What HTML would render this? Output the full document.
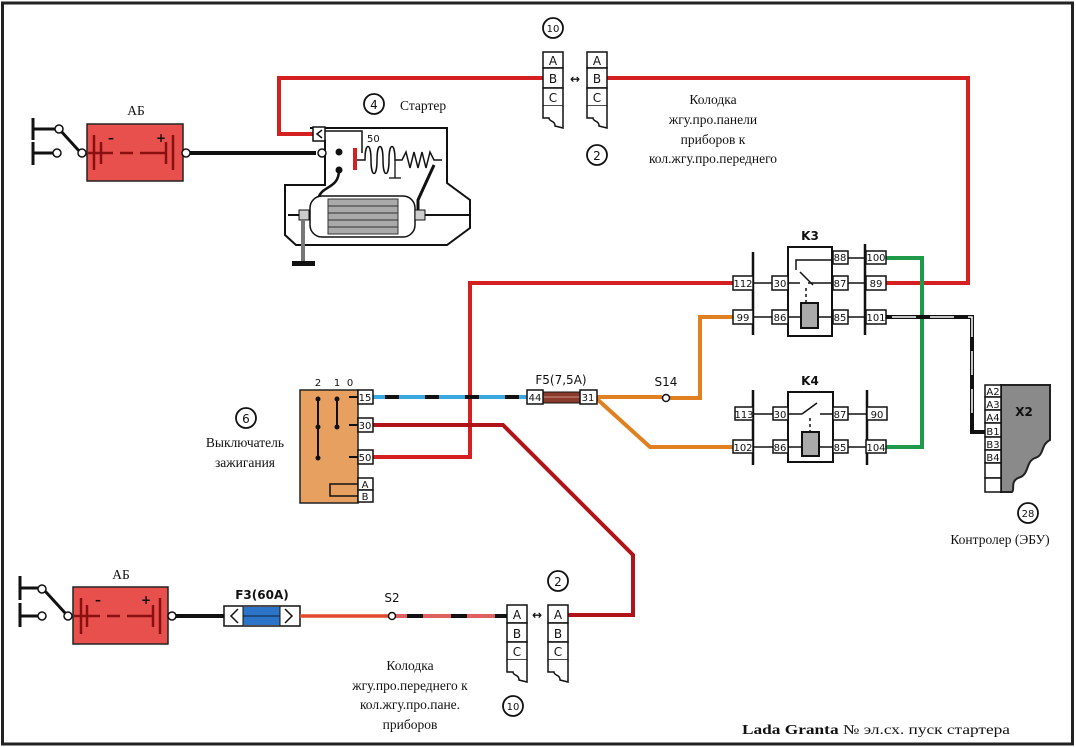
<!DOCTYPE html>
<html><head><meta charset="utf-8"><style>
html,body{margin:0;padding:0;background:#fff}
svg{display:block}
.s{font-family:"Liberation Serif","DejaVu Serif",serif;font-size:13.5px;fill:#111}
.p{font-family:"DejaVu Sans","Liberation Sans",sans-serif;font-size:10px;fill:#111}
.b{font-family:"DejaVu Sans","Liberation Sans",sans-serif;font-size:12px;fill:#111}
</style></head><body>
<svg width="1076" height="747" viewBox="0 0 1076 747" xmlns="http://www.w3.org/2000/svg">
<rect x="2.5" y="3" width="1070" height="741" fill="#fff" stroke="#222" stroke-width="3"/>

<!-- top battery -->
<g stroke="#111" stroke-width="3" fill="none">
<line x1="33" y1="118" x2="33" y2="140"/><line x1="33" y1="142" x2="33" y2="165"/>
<line x1="33" y1="129" x2="58" y2="129"/><line x1="33" y1="153" x2="53" y2="153"/>
<line x1="60" y1="130" x2="80" y2="152"/>
<line x1="183" y1="153" x2="316" y2="153" stroke-width="4"/>
</g>
<circle cx="59" cy="129" r="4" fill="#fff" stroke="#111" stroke-width="1.5"/>
<circle cx="57" cy="153" r="4" fill="#fff" stroke="#111" stroke-width="1.5"/>
<circle cx="82" cy="153" r="4" fill="#fff" stroke="#111" stroke-width="1.5"/>
<rect x="87" y="124" width="96" height="57" fill="#e8504d" stroke="#222" stroke-width="1.5"/>
<g stroke="#8a1010" stroke-width="2.5"><line x1="94" y1="135" x2="94" y2="170"/><line x1="101" y1="142" x2="101" y2="164"/><line x1="88" y1="153" x2="113" y2="153"/><line x1="120" y1="153" x2="133" y2="153"/><line x1="140" y1="153" x2="166" y2="153"/><line x1="166" y1="142" x2="166" y2="164"/><line x1="173" y1="135" x2="173" y2="170"/></g>
<text x="108" y="142" class="b" fill="#8a1010" font-weight="bold">–</text><text x="156" y="142" class="b" font-weight="bold" fill="#8a1010">+</text>
<circle cx="186" cy="153" r="4" fill="#fff" stroke="#111" stroke-width="1.5"/>
<text x="136" y="115" class="s" font-size="17" text-anchor="middle">АБ</text>

<!-- red top loop -->
<polyline points="313,134 279,134 279,78 543,78" fill="none" stroke="#d42020" stroke-width="4"/>
<polyline points="607,78 968,78 968,283 886,283" fill="none" stroke="#d42020" stroke-width="4"/>

<!-- starter -->
<path d="M310,128 H447 V183 L470,200 V228 L447,245 H296 L285,235 V185 H325 V140" fill="none" stroke="#111" stroke-width="2"/>
<line x1="288" y1="215" x2="470" y2="215" stroke="#111" stroke-width="2"/>
<rect x="313" y="127" width="12" height="14" fill="#fff" stroke="#111" stroke-width="1.5"/>
<polyline points="322,130 317,134 322,138" fill="none" stroke="#111" stroke-width="1.5"/>
<polyline points="325,131 362,131 362,153" fill="none" stroke="#111" stroke-width="1.5"/>
<circle cx="322" cy="153" r="4" fill="#fff" stroke="#111" stroke-width="1.5"/>
<circle cx="339" cy="152" r="3.5" fill="#111"/><circle cx="339" cy="170" r="3.5" fill="#111"/>
<path d="M339,170 C339,190 320,185 318,200" fill="none" stroke="#111" stroke-width="2.5"/>
<rect x="353" y="148" width="4" height="22" fill="#d42020"/>
<path d="M357,160 H365 c0,-18 6,-18 6,0 c0,18 6,18 6,0 c0,-18 6,-18 6,0 c0,18 6,18 6,0 c0,-18 6,-18 6,0 L402,160 l4,-8 l4,16 l4,-16 l4,16 l4,-16 l4,16 l4,-16 l4,8 H442" fill="none" stroke="#111" stroke-width="1.5"/>
<line x1="395" y1="160" x2="395" y2="178" stroke="#111" stroke-width="1.3"/><line x1="389" y1="178" x2="401" y2="178" stroke="#111" stroke-width="1.3"/>
<path d="M434,165 L418,200 V215" fill="none" stroke="#111" stroke-width="3"/>
<text x="367" y="142" class="p" font-size="11">50</text>
<rect x="310" y="196" width="105" height="41" rx="12" fill="#fff" stroke="#111" stroke-width="1.5"/>
<rect x="328" y="199" width="70" height="35" fill="#aaa" stroke="#333"/>
<g stroke="#333"><line x1="328" y1="206" x2="398" y2="206"/><line x1="328" y1="213" x2="398" y2="213"/><line x1="328" y1="220" x2="398" y2="220"/><line x1="328" y1="227" x2="398" y2="227"/></g>
<rect x="299" y="210" width="10" height="10" fill="#ccc" stroke="#111"/><rect x="415" y="210" width="10" height="10" fill="#ccc" stroke="#111"/>
<line x1="303" y1="220" x2="303" y2="262" stroke="#777" stroke-width="4"/>
<rect x="292" y="261" width="23" height="5" fill="#111"/>
<circle cx="374" cy="104" r="10" fill="#fff" stroke="#111" stroke-width="1.8"/><text x="374" y="109" class="b" text-anchor="middle">4</text>
<text x="400" y="110" class="s" font-size="14.5">Стартер</text>

<!-- top connectors 10 -->
<g fill="#fff" stroke="#111" stroke-width="1.5">
<rect x="543" y="52" width="20" height="16"/><rect x="543" y="68" width="20" height="20"/><rect x="543" y="88" width="20" height="18"/>
<path d="M543,106 V118 h6 c0,4 6,2 6,8 l8,2 V106" fill="#fff"/>
<rect x="587" y="52" width="20" height="16"/><rect x="587" y="68" width="20" height="20"/><rect x="587" y="88" width="20" height="18"/>
<path d="M587,106 V118 h6 c0,4 6,2 6,8 l8,2 V106"/>
</g>
<g><text x="553" y="65" class="b" font-size="13" text-anchor="middle">A</text><text x="553" y="83" class="b" font-size="13" text-anchor="middle">B</text><text x="553" y="102" class="b" font-size="13" text-anchor="middle">C</text><text x="597" y="65" class="b" font-size="13" text-anchor="middle">A</text><text x="597" y="83" class="b" font-size="13" text-anchor="middle">B</text><text x="597" y="102" class="b" font-size="13" text-anchor="middle">C</text></g>
<text x="575" y="83" class="b" font-size="14" font-weight="bold" text-anchor="middle">↔</text>
<circle cx="553" cy="28" r="10" fill="#fff" stroke="#111" stroke-width="1.8"/><text x="553" y="32" class="p" text-anchor="middle">10</text>
<circle cx="597" cy="155" r="10" fill="#fff" stroke="#111" stroke-width="1.8"/><text x="597" y="160" class="b" text-anchor="middle">2</text>
<g><text x="713" y="104" class="s" text-anchor="middle">Колодка</text><text x="713" y="124" class="s" text-anchor="middle">жгу.про.панели</text><text x="713" y="144" class="s" text-anchor="middle">приборов к</text><text x="713" y="163" class="s" text-anchor="middle">кол.жгу.про.переднего</text></g>

<!-- wires middle -->
<polyline points="373,457 470,457 470,283 733,283" fill="none" stroke="#d42020" stroke-width="4"/>
<polyline points="373,425 503,425 633,555 633,615 568,615" fill="none" stroke="#b01418" stroke-width="4"/>
<line x1="373" y1="397" x2="527" y2="397" stroke="#3aa8e0" stroke-width="4"/>
<line x1="373" y1="397" x2="527" y2="397" stroke="#111" stroke-width="4" stroke-dasharray="0 12 14 14"/>
<polyline points="733,317 700,317 700,398 670,398" fill="none" stroke="#e08020" stroke-width="4"/>
<polyline points="597,397 662,397" fill="none" stroke="#e08020" stroke-width="4"/>
<polyline points="597,399 650,447 733,447" fill="none" stroke="#e08020" stroke-width="4"/>
<circle cx="666" cy="398" r="3.5" fill="#fff" stroke="#111" stroke-width="1.5"/>
<text x="666" y="386" class="b" text-anchor="middle">S14</text>
<polyline points="886,258 922,258 922,447 886,447" fill="none" stroke="#1f9a4a" stroke-width="4"/>
<polyline points="886,317 972,317 972,432 985,432" fill="none" stroke="#111" stroke-width="4"/>
<polyline points="892,317 972,317 972,425" fill="none" stroke="#fff" stroke-width="1.5" stroke-dasharray="24 14"/>

<!-- K3 -->
<g stroke="#111" fill="none" stroke-width="1.5">
<line x1="753" y1="252" x2="753" y2="335" stroke-width="2.5"/><line x1="865" y1="244" x2="865" y2="335" stroke-width="2.5"/>
<line x1="753" y1="283" x2="772" y2="283"/><line x1="753" y1="317" x2="772" y2="317"/>
<line x1="848" y1="258" x2="866" y2="258"/><line x1="848" y1="283" x2="866" y2="283"/><line x1="848" y1="317" x2="866" y2="317"/>
<rect x="788" y="247" width="44" height="89" stroke-width="2"/>
<polyline points="787,283 800,283"/><polyline points="808,283 833,283"/><line x1="800" y1="272" x2="813" y2="285"/>
<polyline points="796,270 796,260 832,260"/>
<line x1="806" y1="288" x2="806" y2="302" stroke-dasharray="3 3"/>
<line x1="787" y1="317" x2="801" y2="317"/><line x1="818" y1="317" x2="833" y2="317"/>
<rect x="801" y="303" width="17" height="25" fill="#aaa" stroke-width="2"/>
</g>
<g stroke="#111" fill="#fff" stroke-width="1.5">
<rect x="733" y="276" width="20" height="14"/><rect x="733" y="310" width="20" height="14"/>
<rect x="772" y="276" width="16" height="14"/><rect x="772" y="310" width="16" height="14"/>
<rect x="833" y="251" width="15" height="13"/><rect x="833" y="276" width="15" height="14"/><rect x="833" y="310" width="15" height="14"/>
<rect x="866" y="251" width="20" height="13"/><rect x="866" y="276" width="20" height="14"/><rect x="866" y="310" width="20" height="14"/>
</g>
<g class="p" text-anchor="middle">
<text x="743" y="287">112</text><text x="743" y="321">99</text><text x="780" y="287">30</text><text x="780" y="321">86</text>
<text x="840" y="261">88</text><text x="840" y="287">87</text><text x="840" y="321">85</text>
<text x="876" y="261">100</text><text x="876" y="287">89</text><text x="876" y="321">101</text>
</g>
<text x="810" y="240" class="b" font-size="16" font-weight="bold" text-anchor="middle">K3</text>

<!-- K4 -->
<g stroke="#111" fill="none" stroke-width="1.5">
<line x1="753" y1="390" x2="753" y2="465" stroke-width="2.5"/><line x1="867" y1="390" x2="867" y2="465" stroke-width="2.5"/>
<line x1="753" y1="414" x2="773" y2="414"/><line x1="753" y1="447" x2="773" y2="447"/>
<line x1="848" y1="414" x2="867" y2="414"/><line x1="848" y1="447" x2="867" y2="447"/>
<rect x="788" y="392" width="45" height="70" stroke-width="2"/>
<line x1="788" y1="414" x2="802" y2="414"/><line x1="802" y1="414" x2="817" y2="403"/><line x1="820" y1="414" x2="833" y2="414"/>
<line x1="810" y1="418" x2="810" y2="432" stroke-dasharray="3 3"/>
<line x1="788" y1="447" x2="802" y2="447"/><line x1="819" y1="447" x2="833" y2="447"/>
<rect x="802" y="432" width="17" height="24" fill="#aaa" stroke-width="2"/>
</g>
<g stroke="#111" fill="#fff" stroke-width="1.5">
<rect x="735" y="407" width="18" height="13"/><rect x="733" y="440" width="20" height="13"/>
<rect x="773" y="407" width="15" height="13"/><rect x="773" y="440" width="15" height="13"/>
<rect x="833" y="407" width="15" height="13"/><rect x="833" y="440" width="15" height="13"/>
<rect x="867" y="407" width="20" height="13"/><rect x="866" y="440" width="20" height="13"/>
</g>
<g class="p" text-anchor="middle">
<text x="744" y="418">113</text><text x="743" y="451">102</text><text x="780" y="418">30</text><text x="780" y="451">86</text>
<text x="840" y="418">87</text><text x="840" y="451">85</text><text x="877" y="418">90</text><text x="876" y="451">104</text>
</g>
<text x="810" y="385" class="b" font-size="16" font-weight="bold" text-anchor="middle">K4</text>

<!-- ignition switch -->
<rect x="300" y="390" width="58" height="113" fill="#e8a060" stroke="#222" stroke-width="1.5"/>
<g stroke="#111" stroke-width="2" fill="none">
<line x1="318" y1="399" x2="318" y2="458"/><line x1="337" y1="399" x2="337" y2="427"/>
<line x1="349" y1="397" x2="358" y2="397"/><line x1="349" y1="425" x2="358" y2="425"/><line x1="349" y1="457" x2="358" y2="457"/>
<polyline points="358,484 330,484 330,496 358,496" stroke-width="1.5"/>
</g>
<g fill="#111"><circle cx="318" cy="399" r="2.5"/><circle cx="318" cy="427" r="2.5"/><circle cx="318" cy="458" r="2.5"/><circle cx="337" cy="399" r="2.5"/><circle cx="337" cy="427" r="2.5"/></g>
<g stroke="#111" fill="#fff" stroke-width="1.5">
<rect x="358" y="390" width="15" height="14"/><rect x="358" y="418" width="15" height="14"/><rect x="358" y="450" width="15" height="14"/>
<rect x="358" y="478" width="15" height="12"/><rect x="358" y="490" width="15" height="12"/>
</g>
<g class="p" text-anchor="middle"><text x="365" y="401">15</text><text x="365" y="429">30</text><text x="365" y="461">50</text><text x="365" y="488">A</text><text x="365" y="500">B</text>
<text x="318" y="386">2</text><text x="337" y="386">1</text><text x="350" y="386">0</text></g>
<circle cx="246" cy="418" r="10" fill="#fff" stroke="#111" stroke-width="1.8"/><text x="246" y="423" class="b" text-anchor="middle">6</text>
<text x="245" y="447" class="s" font-size="14" text-anchor="middle">Выключатель</text><text x="245" y="467" class="s" font-size="14" text-anchor="middle">зажигания</text>

<!-- F5 -->
<rect x="543" y="392" width="37" height="11" fill="#8a3a2a" stroke="#111"/>
<line x1="543" y1="397" x2="580" y2="397" stroke="#d09080"/>
<rect x="527" y="390" width="16" height="14" fill="#fff" stroke="#111" stroke-width="1.5"/><rect x="580" y="390" width="17" height="14" fill="#fff" stroke="#111" stroke-width="1.5"/>
<text x="535" y="401" class="p" text-anchor="middle">44</text><text x="588" y="401" class="p" text-anchor="middle">31</text>
<text x="561" y="384" class="b" text-anchor="middle">F5(7,5A)</text>

<!-- X2 -->
<path d="M1001,385 H1050 V440 C1040,445 1045,455 1035,458 C1025,462 1030,475 1018,478 C1010,482 1015,490 1012,492 H1001 Z" fill="#8a8a8a" stroke="#222" stroke-width="2"/>
<g stroke="#111" fill="#fff" stroke-width="1.5">
<rect x="985" y="385" width="16" height="12"/><rect x="985" y="397" width="16" height="13"/><rect x="985" y="410" width="16" height="13"/><rect x="985" y="423" width="16" height="14"/><rect x="985" y="437" width="16" height="13"/><rect x="985" y="450" width="16" height="13"/><rect x="985" y="463" width="16" height="15"/><rect x="985" y="478" width="16" height="14"/>
</g>
<g class="p" text-anchor="middle"><text x="993" y="395">A2</text><text x="993" y="408">A3</text><text x="993" y="421">A4</text><text x="993" y="435">B1</text><text x="993" y="448">B3</text><text x="993" y="461">B4</text></g>
<text x="1024" y="416" class="b" font-size="16" font-weight="bold" text-anchor="middle">X2</text>
<circle cx="1028" cy="513" r="10" fill="#fff" stroke="#111" stroke-width="1.8"/><text x="1028" y="517" class="p" text-anchor="middle">28</text>
<text x="1000" y="544" class="s" font-size="14.5" text-anchor="middle">Контролер (ЭБУ)</text>

<!-- bottom battery -->
<g stroke="#111" stroke-width="3" fill="none">
<line x1="20" y1="576" x2="20" y2="600"/><line x1="20" y1="603" x2="20" y2="627"/>
<line x1="20" y1="588" x2="40" y2="588"/><line x1="20" y1="616" x2="40" y2="616"/>
<line x1="45" y1="591" x2="66" y2="614"/>
<line x1="172" y1="616" x2="224" y2="616" stroke-width="4"/>
</g>
<circle cx="42" cy="589" r="4" fill="#fff" stroke="#111" stroke-width="1.5"/>
<circle cx="42" cy="616" r="4" fill="#fff" stroke="#111" stroke-width="1.5"/>
<circle cx="68" cy="616" r="4" fill="#fff" stroke="#111" stroke-width="1.5"/>
<rect x="73" y="587" width="95" height="57" fill="#e8504d" stroke="#222" stroke-width="1.5"/>
<g stroke="#8a1010" stroke-width="2.5"><line x1="81" y1="598" x2="81" y2="634"/><line x1="87" y1="605" x2="87" y2="627"/><line x1="74" y1="616" x2="100" y2="616"/><line x1="107" y1="616" x2="120" y2="616"/><line x1="127" y1="616" x2="153" y2="616"/><line x1="153" y1="605" x2="153" y2="627"/><line x1="160" y1="598" x2="160" y2="634"/></g>
<text x="95" y="604" class="b" font-weight="bold" fill="#8a1010">–</text><text x="141" y="604" class="b" font-weight="bold" fill="#8a1010">+</text>
<circle cx="172" cy="616" r="4" fill="#fff" stroke="#111" stroke-width="1.5"/>
<text x="121" y="579" class="s" font-size="17" text-anchor="middle">АБ</text>
<!-- F3 -->
<rect x="224" y="606" width="76" height="20" fill="#fff" stroke="#111" stroke-width="1.5"/>
<rect x="243" y="607" width="37" height="18" fill="#2b74c8"/><line x1="243" y1="616" x2="280" y2="616" stroke="#123"/>
<line x1="243" y1="606" x2="243" y2="626" stroke="#111"/><line x1="280" y1="606" x2="280" y2="626" stroke="#111"/>
<polyline points="238,609 231,616 238,623" fill="none" stroke="#111" stroke-width="1.5"/>
<polyline points="285,609 292,616 285,623" fill="none" stroke="#111" stroke-width="1.5"/>
<text x="262" y="599" class="b" font-weight="bold" text-anchor="middle">F3(60A)</text>
<line x1="300" y1="616" x2="389" y2="616" stroke="#e04a2a" stroke-width="3.5"/>
<line x1="395" y1="616" x2="507" y2="616" stroke="#e06060" stroke-width="4"/>
<line x1="395" y1="616" x2="507" y2="616" stroke="#111" stroke-width="4" stroke-dasharray="0 12 16 16"/>
<circle cx="392" cy="616" r="3.5" fill="#fff" stroke="#111" stroke-width="1.5"/>
<text x="392" y="602" class="b" text-anchor="middle">S2</text>
<!-- bottom connectors -->
<g fill="#fff" stroke="#111" stroke-width="1.5">
<rect x="507" y="605" width="20" height="18"/><rect x="507" y="623" width="20" height="19"/><rect x="507" y="642" width="20" height="18"/>
<path d="M507,660 V672 h6 c0,4 6,2 6,8 l8,2 V660"/>
<rect x="548" y="605" width="20" height="18"/><rect x="548" y="623" width="20" height="19"/><rect x="548" y="642" width="20" height="18"/>
<path d="M548,660 V672 h6 c0,4 6,2 6,8 l8,2 V660"/>
</g>
<g class="b" font-size="13" text-anchor="middle"><text x="517" y="619">A</text><text x="517" y="638">B</text><text x="517" y="656">C</text><text x="558" y="619">A</text><text x="558" y="638">B</text><text x="558" y="656">C</text></g>
<text x="537" y="619" class="b" font-size="14" font-weight="bold" text-anchor="middle">↔</text>
<circle cx="558" cy="581" r="10" fill="#fff" stroke="#111" stroke-width="1.8"/><text x="558" y="586" class="b" text-anchor="middle">2</text>
<circle cx="513" cy="706" r="10" fill="#fff" stroke="#111" stroke-width="1.8"/><text x="513" y="710" class="p" text-anchor="middle">10</text>
<g class="s" text-anchor="middle"><text x="410" y="670">Колодка</text><text x="410" y="690">жгу.про.переднего к</text><text x="410" y="709">кол.жгу.про.пане.</text><text x="410" y="729">приборов</text></g>

<text x="742" y="734" class="s" font-size="15" textLength="268" lengthAdjust="spacingAndGlyphs"><tspan font-weight="bold">Lada Granta</tspan> № эл.сх. пуск стартера</text>
</svg>
</body></html>
